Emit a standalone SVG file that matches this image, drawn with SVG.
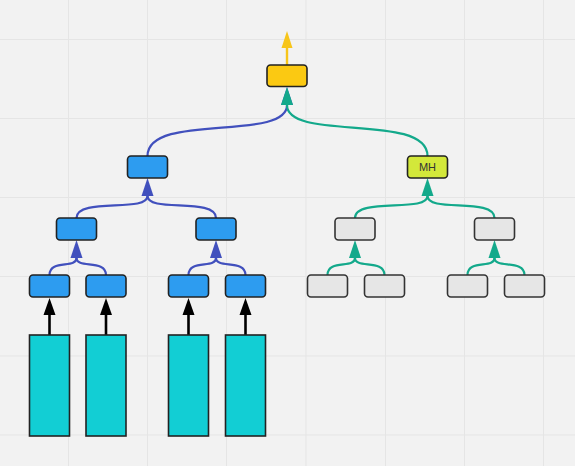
<svg xmlns="http://www.w3.org/2000/svg" width="575" height="466" viewBox="0 0 575 466">
<style>
.grid line{stroke:#e5e5e5;stroke-width:1}
.n{stroke:#222;stroke-width:1.6}
.b{fill:#2d9cf0}
.g{fill:#e6e6e6;stroke:#333}
.c{fill:#12ced4}
.e{fill:none;stroke-width:2.2}
.bl{stroke:#4150bd}
.tl{stroke:#13a98b}
.k{stroke:#000;stroke-width:2.6}
.y{stroke:#f7c51a;stroke-width:2.4}
.t{font-family:"Liberation Sans",Arial,sans-serif;font-size:11px;fill:#333;text-anchor:middle}
</style>
<defs>
<marker id="ab" markerUnits="userSpaceOnUse" markerWidth="18" markerHeight="12" refX="0" refY="6" orient="auto" overflow="visible"><path d="M0,0 L18,6 L0,12 z" fill="#4150bd"/></marker>
<marker id="at" markerUnits="userSpaceOnUse" markerWidth="18" markerHeight="12" refX="0" refY="6" orient="auto" overflow="visible"><path d="M0,0 L18,6 L0,12 z" fill="#13a98b"/></marker>
<marker id="ak" markerUnits="userSpaceOnUse" markerWidth="17" markerHeight="12" refX="0" refY="6" orient="auto" overflow="visible"><path d="M0,0 L17,6 L0,12 z" fill="#000"/></marker>
<marker id="ay" markerUnits="userSpaceOnUse" markerWidth="17" markerHeight="11" refX="0" refY="5.5" orient="auto" overflow="visible"><path d="M0,0 L17,5.5 L0,11 z" fill="#f7c51a"/></marker>
</defs>
<rect width="575" height="466" fill="#f2f2f2"/>
<g class="grid">
<line x1="68.5" y1="0" x2="68.5" y2="466"/><line x1="147.5" y1="0" x2="147.5" y2="466"/><line x1="226.5" y1="0" x2="226.5" y2="466"/><line x1="306" y1="0" x2="306" y2="466"/><line x1="385.5" y1="0" x2="385.5" y2="466"/><line x1="464.5" y1="0" x2="464.5" y2="466"/><line x1="543.5" y1="0" x2="543.5" y2="466"/>
<line x1="0" y1="39.5" x2="575" y2="39.5"/><line x1="0" y1="118.5" x2="575" y2="118.5"/><line x1="0" y1="197.5" x2="575" y2="197.5"/><line x1="0" y1="276.5" x2="575" y2="276.5"/><line x1="0" y1="356" x2="575" y2="356"/><line x1="0" y1="435" x2="575" y2="435"/>
</g>
<g id="connectors">
<path class="y" d="M287,65 L287,48" marker-end="url(#ay)"/>
<path class="e bl" d="M147.5,156 C147.5,112 287,142 287,105" marker-end="url(#ab)"/>
<path class="e tl" d="M427.5,156 C427.5,112 287,142 287,105" marker-end="url(#at)"/>
<path class="e bl" d="M76.5,218 C76.5,197 147.5,213 147.5,196" marker-end="url(#ab)"/>
<path class="e bl" d="M216,218 C216,197 147.5,213 147.5,196"/>
<path class="e tl" d="M355,218 C355,197 427.5,213 427.5,196" marker-end="url(#at)"/>
<path class="e tl" d="M494.5,218 C494.5,197 427.5,213 427.5,196"/>
<path class="e bl" d="M49.5,275 C49.5,259 76.5,269 76.5,258" marker-end="url(#ab)"/>
<path class="e bl" d="M106,275 C106,259 76.5,269 76.5,258"/>
<path class="e bl" d="M188.5,275 C188.5,259 216,269 216,258" marker-end="url(#ab)"/>
<path class="e bl" d="M245.5,275 C245.5,259 216,269 216,258"/>
<path class="e tl" d="M327.5,275 C327.5,259 355,269 355,258" marker-end="url(#at)"/>
<path class="e tl" d="M384.5,275 C384.5,259 355,269 355,258"/>
<path class="e tl" d="M467.5,275 C467.5,259 494.5,269 494.5,258" marker-end="url(#at)"/>
<path class="e tl" d="M524.5,275 C524.5,259 494.5,269 494.5,258"/>
<path class="k" d="M49.5,335 L49.5,315" marker-end="url(#ak)"/>
<path class="k" d="M106,335 L106,315" marker-end="url(#ak)"/>
<path class="k" d="M188.5,335 L188.5,315" marker-end="url(#ak)"/>
<path class="k" d="M245.5,335 L245.5,315" marker-end="url(#ak)"/>
</g>
<g id="root"><rect class="n" x="267" y="65" width="40" height="21.5" rx="3.5" fill="#fbc912"/></g>
<g id="b2"><rect class="n b" x="127.5" y="156" width="40" height="22" rx="3.5"/></g>
<g id="mh"><rect class="n" x="407.5" y="156" width="40" height="22" rx="3.5" fill="#d3e83a"/><text class="t" x="427.5" y="171">MH</text></g>
<g id="b3a"><rect class="n b" x="56.5" y="218" width="40" height="22" rx="3.5"/></g>
<g id="b3b"><rect class="n b" x="196" y="218" width="40" height="22" rx="3.5"/></g>
<g id="g3a"><rect class="n g" x="335" y="218" width="40" height="22" rx="3.5"/></g>
<g id="g3b"><rect class="n g" x="474.5" y="218" width="40" height="22" rx="3.5"/></g>
<g id="b4a"><rect class="n b" x="29.5" y="275" width="40" height="22" rx="3.5"/></g>
<g id="b4b"><rect class="n b" x="86" y="275" width="40" height="22" rx="3.5"/></g>
<g id="b4c"><rect class="n b" x="168.5" y="275" width="40" height="22" rx="3.5"/></g>
<g id="b4d"><rect class="n b" x="225.5" y="275" width="40" height="22" rx="3.5"/></g>
<g id="g4a"><rect class="n g" x="307.5" y="275" width="40" height="22" rx="3.5"/></g>
<g id="g4b"><rect class="n g" x="364.5" y="275" width="40" height="22" rx="3.5"/></g>
<g id="g4c"><rect class="n g" x="447.5" y="275" width="40" height="22" rx="3.5"/></g>
<g id="g4d"><rect class="n g" x="504.5" y="275" width="40" height="22" rx="3.5"/></g>
<g id="c1"><rect class="n c" x="29.5" y="335" width="40" height="101"/></g>
<g id="c2"><rect class="n c" x="86" y="335" width="40" height="101"/></g>
<g id="c3"><rect class="n c" x="168.5" y="335" width="40" height="101"/></g>
<g id="c4"><rect class="n c" x="225.5" y="335" width="40" height="101"/></g>
</svg>
